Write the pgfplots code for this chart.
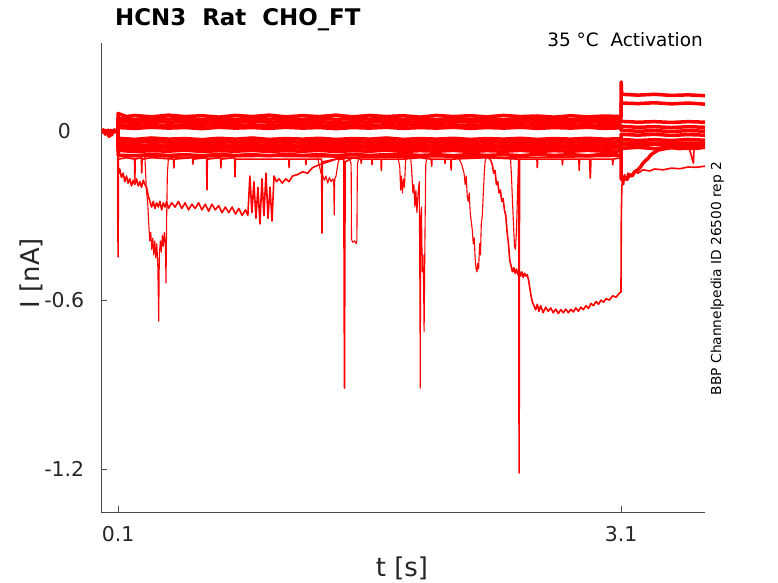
\documentclass[border=0pt]{standalone}
\usepackage{fontspec}
\setmainfont{DejaVu Sans}
\usepackage{pgfplots}
\pgfplotsset{compat=1.18}
\definecolor{axgray}{gray}{0.3}
\definecolor{txgray}{gray}{0.15}
\pgfplotsset{
  bd/.style={red, line width=3.5bp, line join=round},
  sp/.style={red, line width=1.1bp, line join=round},
  md/.style={red, line width=1.6bp, line join=round},
}
\begin{document}
\begin{tikzpicture}
\path[use as bounding box] (0,0) rectangle (778bp,583bp);
\begin{axis}[
  at={(101.3bp,70.7bp)}, anchor=south west,
  width=603.7bp, height=469.3bp, scale only axis,
  xmin=0, xmax=3.6, ymin=-1.353, ymax=0.312,
  axis x line*=bottom, axis y line*=left,
  axis line style={-, color=axgray, line width=0.8bp},
  xtick={0.1,3.1}, xticklabels={0.1,3.1},
  ytick={-1.2,-0.6,0}, yticklabels={-1.2,-0.6,0},
  tick align=inside, major tick length=6bp,
  tick style={color=axgray, line width=0.8bp},
  /pgf/number format/assume math mode=true,
  ticklabel style={font=\fontsize{20.5}{20.5}\selectfont, text=txgray},
  xticklabel style={anchor=center, yshift=-22bp},
  yticklabel style={anchor=center, xshift=-37bp},
  clip=true,
]
% pre-step
\addplot[bd] coordinates {(0,0.003)(0.006,-0.004)(0.012,0.004)(0.018,-0.002)(0.024,-0.012)(0.028,0.001)(0.034,-0.006)(0.04,0.003)(0.046,-0.02)(0.05,-0.004)(0.056,0.002)(0.062,-0.015)(0.066,0.0)(0.072,-0.005)(0.078,0.004)(0.084,-0.003)(0.09,0.002)(0.0995,-0.002)};
% band traces
\addplot[bd] coordinates {(0.099,0)(0.1,0.062)(0.15,0.051)(0.2,0.055)(0.3,0.050)(0.4,0.056)(0.5,0.051)(0.6,0.054)(0.7,0.049)(0.8,0.055)(0.9,0.051)(1.0,0.056)(1.1,0.050)(1.2,0.054)(1.3,0.051)(1.4,0.056)(1.5,0.050)(1.6,0.055)(1.7,0.051)(1.8,0.054)(1.9,0.049)(2.0,0.055)(2.1,0.051)(2.2,0.054)(2.3,0.050)(2.4,0.055)(2.5,0.051)(2.6,0.053)(2.7,0.049)(2.8,0.054)(2.9,0.050)(3.0,0.053)(3.099,0.051)(3.1,0.099)(3.2,0.097)(3.3,0.1)(3.4,0.096)(3.5,0.099)(3.6,0.095)};
\addplot[bd] coordinates {(0.099,0)(0.1,0.045)(0.2,0.041)(0.3,0.046)(0.4,0.042)(0.5,0.044)(0.6,0.040)(0.7,0.045)(0.8,0.041)(0.9,0.046)(1.0,0.042)(1.1,0.044)(1.2,0.040)(1.3,0.046)(1.4,0.041)(1.5,0.045)(1.6,0.042)(1.7,0.046)(1.8,0.041)(1.9,0.044)(2.0,0.040)(2.1,0.045)(2.2,0.041)(2.3,0.044)(2.4,0.040)(2.5,0.045)(2.6,0.041)(2.7,0.044)(2.8,0.040)(2.9,0.044)(3.0,0.041)(3.099,0.043)(3.1,0.174)(3.103,0.13)(3.2,0.127)(3.3,0.130)(3.4,0.126)(3.5,0.128)(3.6,0.125)};
\addplot[bd] coordinates {(0.099,0)(0.1,0.034)(0.2,0.030)(0.3,0.035)(0.4,0.031)(0.5,0.033)(0.6,0.029)(0.7,0.034)(0.8,0.030)(0.9,0.035)(1.0,0.031)(1.1,0.033)(1.2,0.030)(1.3,0.034)(1.4,0.029)(1.5,0.033)(1.6,0.031)(1.7,0.035)(1.8,0.030)(1.9,0.033)(2.0,0.029)(2.1,0.034)(2.2,0.031)(2.3,0.033)(2.4,0.029)(2.5,0.034)(2.6,0.030)(2.7,0.033)(2.8,0.031)(2.9,0.034)(3.0,0.030)(3.099,0.032)(3.1,0.034)(3.2,0.031)(3.3,0.033)(3.4,0.030)(3.5,0.033)(3.6,0.031)};
\addplot[bd] coordinates {(0.099,0)(0.1,0.022)(0.2,0.019)(0.3,0.023)(0.4,0.018)(0.5,0.022)(0.6,0.020)(0.7,0.024)(0.8,0.019)(0.9,0.022)(1.0,0.018)(1.1,0.023)(1.2,0.020)(1.3,0.022)(1.4,0.018)(1.5,0.023)(1.6,0.019)(1.7,0.022)(1.8,0.020)(1.9,0.024)(2.0,0.019)(2.1,0.022)(2.2,0.018)(2.3,0.023)(2.4,0.020)(2.5,0.022)(2.6,0.019)(2.7,0.023)(2.8,0.020)(2.9,0.022)(3.0,0.019)(3.099,0.021)(3.1,0.016)(3.2,0.013)(3.3,0.015)(3.4,0.012)(3.5,0.015)(3.6,0.013)};
\addplot[bd] coordinates {(0.099,0)(0.1,0.012)(0.2,0.009)(0.3,0.013)(0.4,0.010)(0.5,0.012)(0.6,0.008)(0.7,0.013)(0.8,0.010)(0.9,0.012)(1.0,0.009)(1.1,0.013)(1.2,0.010)(1.3,0.012)(1.4,0.008)(1.5,0.012)(1.6,0.010)(1.7,0.013)(1.8,0.009)(1.9,0.012)(2.0,0.010)(2.1,0.013)(2.2,0.009)(2.3,0.012)(2.4,0.010)(2.5,0.013)(2.6,0.009)(2.7,0.012)(2.8,0.010)(2.9,0.013)(3.0,0.009)(3.099,0.011)(3.1,0.002)(3.2,-0.001)(3.3,0.001)(3.4,-0.002)(3.5,0.001)(3.6,-0.001)};
\addplot[bd] coordinates {(0.099,0)(0.1,-0.026)(0.2,-0.030)(0.3,-0.025)(0.4,-0.029)(0.5,-0.027)(0.6,-0.031)(0.7,-0.026)(0.8,-0.029)(0.9,-0.025)(1.0,-0.030)(1.1,-0.027)(1.2,-0.029)(1.3,-0.026)(1.4,-0.030)(1.5,-0.027)(1.6,-0.029)(1.7,-0.025)(1.8,-0.030)(1.9,-0.027)(2.0,-0.029)(2.1,-0.026)(2.2,-0.030)(2.3,-0.027)(2.4,-0.029)(2.5,-0.026)(2.6,-0.030)(2.7,-0.027)(2.8,-0.029)(2.9,-0.026)(3.0,-0.029)(3.099,-0.028)(3.1,-0.012)(3.2,-0.015)(3.3,-0.012)(3.4,-0.016)(3.5,-0.013)(3.6,-0.015)};
\addplot[bd] coordinates {(0.099,0)(0.1,-0.037)(0.2,-0.041)(0.3,-0.036)(0.4,-0.040)(0.5,-0.038)(0.6,-0.042)(0.7,-0.037)(0.8,-0.040)(0.9,-0.036)(1.0,-0.041)(1.1,-0.038)(1.2,-0.040)(1.3,-0.036)(1.4,-0.041)(1.5,-0.038)(1.6,-0.040)(1.7,-0.037)(1.8,-0.041)(1.9,-0.038)(2.0,-0.040)(2.1,-0.036)(2.2,-0.041)(2.3,-0.038)(2.4,-0.040)(2.5,-0.037)(2.6,-0.041)(2.7,-0.038)(2.8,-0.040)(2.9,-0.037)(3.0,-0.040)(3.099,-0.039)(3.1,-0.030)(3.2,-0.034)(3.3,-0.031)(3.4,-0.034)(3.5,-0.030)(3.6,-0.033)};
\addplot[bd] coordinates {(0.099,0)(0.1,-0.048)(0.2,-0.052)(0.3,-0.049)(0.4,-0.051)(0.5,-0.047)(0.6,-0.052)(0.7,-0.049)(0.8,-0.051)(0.9,-0.048)(1.0,-0.052)(1.1,-0.049)(1.2,-0.051)(1.3,-0.047)(1.4,-0.052)(1.5,-0.049)(1.6,-0.051)(1.7,-0.048)(1.8,-0.052)(1.9,-0.049)(2.0,-0.051)(2.1,-0.047)(2.2,-0.052)(2.3,-0.049)(2.4,-0.051)(2.5,-0.048)(2.6,-0.052)(2.7,-0.049)(2.8,-0.051)(2.9,-0.048)(3.0,-0.051)(3.099,-0.050)(3.1,-0.044)(3.2,-0.048)(3.3,-0.045)(3.4,-0.048)(3.5,-0.044)(3.6,-0.047)};
\addplot[bd] coordinates {(0.099,0)(0.1,-0.058)(0.2,-0.062)(0.3,-0.059)(0.4,-0.061)(0.5,-0.057)(0.6,-0.062)(0.7,-0.059)(0.8,-0.061)(0.9,-0.058)(1.0,-0.062)(1.1,-0.059)(1.2,-0.061)(1.3,-0.058)(1.4,-0.062)(1.5,-0.059)(1.6,-0.061)(1.7,-0.058)(1.8,-0.062)(1.9,-0.059)(2.0,-0.061)(2.1,-0.057)(2.2,-0.062)(2.3,-0.059)(2.4,-0.061)(2.5,-0.058)(2.6,-0.062)(2.7,-0.059)(2.8,-0.061)(2.9,-0.058)(3.0,-0.061)(3.099,-0.060)(3.1,-0.062)(3.2,-0.058)(3.3,-0.063)(3.4,-0.059)(3.5,-0.062)(3.6,-0.058)};
\addplot[bd] coordinates {(0.099,0)(0.1,-0.069)(0.2,-0.073)(0.3,-0.070)(0.4,-0.072)(0.5,-0.068)(0.6,-0.073)(0.7,-0.070)(0.8,-0.072)(0.9,-0.069)(1.0,-0.073)(1.1,-0.070)(1.2,-0.072)(1.3,-0.069)(1.4,-0.073)(1.5,-0.070)(1.6,-0.072)(1.7,-0.068)(1.8,-0.073)(1.9,-0.070)(2.0,-0.072)(2.1,-0.069)(2.2,-0.073)(2.3,-0.070)(2.4,-0.072)(2.5,-0.069)(2.6,-0.073)(2.7,-0.070)(2.8,-0.072)(2.9,-0.069)(3.0,-0.072)(3.099,-0.071)(3.1,-0.17)(3.11,-0.175)(3.12,-0.163)(3.135,-0.172)(3.15,-0.155)(3.165,-0.16)(3.18,-0.145)(3.2,-0.138)(3.215,-0.128)(3.23,-0.115)(3.245,-0.105)(3.26,-0.098)(3.275,-0.086)(3.293,-0.078)(3.32,-0.068)(3.352,-0.064)(3.4,-0.059)(3.45,-0.063)(3.5,-0.058)(3.55,-0.062)(3.6,-0.057)};
\addplot[bd] coordinates {(0.099,0)(0.1,-0.086)(0.2,-0.088)(0.3,-0.083)(0.4,-0.087)(0.5,-0.084)(0.6,-0.088)(0.7,-0.083)(0.8,-0.087)(0.9,-0.084)(1.0,-0.088)(1.1,-0.083)(1.2,-0.087)(1.3,-0.084)(1.4,-0.088)(1.5,-0.083)(1.6,-0.087)(1.7,-0.084)(1.8,-0.083)(1.9,-0.087)(2.0,-0.084)(2.1,-0.088)(2.2,-0.083)(2.3,-0.087)(2.4,-0.084)(2.5,-0.088)(2.6,-0.083)(2.7,-0.087)(2.8,-0.084)(2.9,-0.088)(3.0,-0.083)(3.099,-0.086)(3.1,-0.048)(3.2,-0.052)(3.3,-0.047)(3.4,-0.053)(3.5,-0.048)(3.6,-0.05)};
% spiky band-bottom trace
\addplot[md] coordinates {(0.099,0)(0.1,-0.447)(0.102,-0.1)(0.15,-0.095)(0.198,-0.10)(0.2,-0.174)(0.202,-0.10)(0.239,-0.095)(0.241,-0.149)(0.243,-0.10)(0.3,-0.095)(0.431,-0.1)(0.433,-0.131)(0.435,-0.1)(0.544,-0.095)(0.546,-0.118)(0.548,-0.1)(0.628,-0.095)(0.630,-0.209)(0.632,-0.1)(0.711,-0.095)(0.713,-0.131)(0.715,-0.1)(0.795,-0.095)(0.797,-0.163)(0.8,-0.1)(1.0,-0.1)(1.118,-0.1)(1.12,-0.13)(1.122,-0.1)(1.218,-0.1)(1.22,-0.12)(1.222,-0.1)(1.314,-0.1)(1.316,-0.362)(1.318,-0.11)(1.40,-0.1)(1.446,-0.1)(1.450,-0.912)(1.454,-0.11)(1.5,-0.095)(1.548,-0.1)(1.55,-0.115)(1.552,-0.1)(1.613,-0.1)(1.615,-0.12)(1.617,-0.1)(1.668,-0.1)(1.67,-0.14)(1.672,-0.1)(1.8,-0.1)(1.9,-0.095)(1.968,-0.1)(1.97,-0.125)(1.972,-0.1)(2.048,-0.1)(2.05,-0.115)(2.052,-0.1)(2.084,-0.1)(2.086,-0.138)(2.088,-0.1)(2.3,-0.095)(2.489,-0.1)(2.4915,-1.213)(2.494,-0.1)(2.598,-0.1)(2.6,-0.13)(2.602,-0.1)(2.748,-0.1)(2.75,-0.12)(2.752,-0.1)(2.848,-0.1)(2.85,-0.14)(2.852,-0.1)(2.912,-0.1)(2.916,-0.167)(2.92,-0.1)(3.048,-0.1)(3.05,-0.12)(3.052,-0.1)(3.099,-0.095)(3.1,-0.05)(3.2,-0.055)(3.3,-0.05)(3.4,-0.055)(3.5,-0.05)(3.531,-0.114)(3.535,-0.055)(3.6,-0.05)};
% slow trace A
\addplot[md] coordinates {(0.099,0)(0.1,-0.12)(0.105,-0.15)(0.11,-0.135)(0.12,-0.165)(0.13,-0.15)(0.14,-0.18)(0.15,-0.16)(0.16,-0.185)(0.17,-0.17)(0.18,-0.195)(0.19,-0.175)(0.20,-0.19)(0.21,-0.17)(0.22,-0.195)(0.23,-0.18)(0.24,-0.2)(0.25,-0.175)(0.26,-0.19)(0.27,-0.2)(0.28,-0.23)(0.29,-0.25)(0.30,-0.27)(0.31,-0.25)(0.32,-0.275)(0.33,-0.255)(0.34,-0.27)(0.35,-0.25)(0.36,-0.28)(0.37,-0.255)(0.38,-0.27)(0.39,-0.25)(0.40,-0.275)(0.42,-0.255)(0.44,-0.27)(0.46,-0.25)(0.48,-0.275)(0.50,-0.255)(0.52,-0.28)(0.54,-0.26)(0.56,-0.275)(0.58,-0.255)(0.60,-0.28)(0.62,-0.26)(0.64,-0.285)(0.66,-0.26)(0.68,-0.28)(0.70,-0.265)(0.72,-0.29)(0.74,-0.27)(0.76,-0.29)(0.78,-0.27)(0.80,-0.295)(0.82,-0.275)(0.84,-0.3)(0.86,-0.28)(0.874,-0.3)(0.886,-0.16)(0.898,-0.29)(0.91,-0.18)(0.922,-0.31)(0.934,-0.2)(0.946,-0.33)(0.958,-0.17)(0.97,-0.3)(0.982,-0.15)(0.994,-0.31)(1.006,-0.2)(1.018,-0.32)(1.03,-0.16)(1.045,-0.18)(1.06,-0.17)(1.08,-0.185)(1.1,-0.17)(1.12,-0.18)(1.14,-0.16)(1.17,-0.155)(1.2,-0.145)(1.23,-0.15)(1.26,-0.13)(1.3,-0.12)(1.35,-0.11)(1.4,-0.1)(1.5,-0.095)(2.0,-0.092)(2.5,-0.095)(3.099,-0.09)(3.1,-0.04)(3.6,-0.04)};
% deep dips near 0.3 s
\addplot[sp] coordinates {(0.26,-0.09)(0.268,-0.2)(0.277,-0.26)(0.283,-0.33)(0.289,-0.39)(0.295,-0.36)(0.301,-0.42)(0.307,-0.38)(0.313,-0.44)(0.319,-0.39)(0.325,-0.45)(0.331,-0.40)(0.337,-0.48)(0.3425,-0.675)(0.346,-0.44)(0.352,-0.39)(0.358,-0.43)(0.364,-0.37)(0.370,-0.41)(0.376,-0.36)(0.382,-0.40)(0.386,-0.54)(0.39,-0.30)(0.394,-0.15)(0.40,-0.10)};
% region 1.3-1.4 s
\addplot[sp] coordinates {(1.29,-0.095)(1.31,-0.15)(1.322,-0.16)(1.33,-0.175)(1.34,-0.16)(1.35,-0.185)(1.36,-0.165)(1.37,-0.18)(1.38,-0.17)(1.386,-0.18)(1.389,-0.298)(1.392,-0.17)(1.40,-0.16)(1.41,-0.12)(1.42,-0.095)};
% notch 1.49-1.53 s
\addplot[sp] coordinates {(1.48,-0.095)(1.490,-0.12)(1.492,-0.385)(1.5,-0.395)(1.51,-0.39)(1.52,-0.40)(1.524,-0.39)(1.527,-0.12)(1.535,-0.095)};
% dips near 1.8 s
\addplot[sp] coordinates {(1.77,-0.095)(1.78,-0.13)(1.785,-0.21)(1.79,-0.16)(1.796,-0.22)(1.802,-0.17)(1.808,-0.2)(1.814,-0.11)(1.82,-0.095)};
\addplot[sp] coordinates {(1.845,-0.095)(1.852,-0.15)(1.858,-0.22)(1.864,-0.19)(1.870,-0.27)(1.876,-0.21)(1.882,-0.29)(1.888,-0.23)(1.896,-0.18)(1.900,-0.6)(1.902,-0.912)(1.905,-0.3)(1.909,-0.27)(1.914,-0.50)(1.918,-0.44)(1.922,-0.55)(1.925,-0.713)(1.928,-0.5)(1.931,-0.32)(1.935,-0.12)(1.94,-0.095)};
% V dip near 2.24 s
\addplot[sp] coordinates {(2.13,-0.095)(2.15,-0.12)(2.163,-0.15)(2.17,-0.19)(2.176,-0.16)(2.182,-0.23)(2.188,-0.25)(2.194,-0.22)(2.2,-0.29)(2.206,-0.32)(2.212,-0.35)(2.218,-0.40)(2.224,-0.38)(2.229,-0.45)(2.235,-0.49)(2.240,-0.50)(2.245,-0.47)(2.250,-0.49)(2.256,-0.40)(2.261,-0.44)(2.266,-0.33)(2.272,-0.30)(2.278,-0.22)(2.283,-0.16)(2.288,-0.11)(2.295,-0.095)};
% dip near 2.47 s
\addplot[sp] coordinates {(2.44,-0.095)(2.446,-0.16)(2.452,-0.25)(2.458,-0.33)(2.464,-0.41)(2.470,-0.42)(2.476,-0.35)(2.482,-0.22)(2.488,-0.11)(2.494,-0.095)};
% trough trace
\addplot[md] coordinates {(0.099,0)(0.1,-0.09)(0.5,-0.093)(1.0,-0.09)(1.5,-0.093)(2.0,-0.09)(2.30,-0.092)(2.319,-0.10)(2.331,-0.118)(2.34,-0.15)(2.348,-0.14)(2.356,-0.19)(2.364,-0.18)(2.372,-0.22)(2.38,-0.21)(2.388,-0.25)(2.396,-0.24)(2.404,-0.28)(2.412,-0.30)(2.42,-0.36)(2.428,-0.40)(2.436,-0.46)(2.444,-0.48)(2.452,-0.50)(2.46,-0.485)(2.468,-0.505)(2.476,-0.49)(2.484,-0.51)(2.492,-0.495)(2.50,-0.515)(2.508,-0.50)(2.516,-0.52)(2.524,-0.505)(2.532,-0.515)(2.54,-0.51)(2.548,-0.53)(2.556,-0.56)(2.564,-0.59)(2.572,-0.61)(2.58,-0.62)(2.59,-0.635)(2.60,-0.615)(2.61,-0.64)(2.62,-0.62)(2.635,-0.645)(2.65,-0.625)(2.665,-0.64)(2.68,-0.628)(2.695,-0.645)(2.71,-0.632)(2.725,-0.648)(2.74,-0.634)(2.755,-0.645)(2.77,-0.632)(2.785,-0.645)(2.80,-0.633)(2.815,-0.642)(2.83,-0.628)(2.845,-0.64)(2.86,-0.625)(2.875,-0.634)(2.89,-0.62)(2.905,-0.63)(2.92,-0.612)(2.935,-0.62)(2.95,-0.605)(2.965,-0.615)(2.98,-0.60)(2.995,-0.608)(3.01,-0.595)(3.03,-0.60)(3.05,-0.585)(3.07,-0.59)(3.09,-0.575)(3.099,-0.572)(3.101,-0.30)(3.104,-0.20)(3.11,-0.16)(3.115,-0.19)(3.12,-0.155)(3.13,-0.175)(3.14,-0.15)(3.16,-0.16)(3.18,-0.142)(3.2,-0.15)(3.23,-0.138)(3.27,-0.142)(3.3,-0.135)(3.35,-0.138)(3.4,-0.132)(3.45,-0.134)(3.5,-0.128)(3.55,-0.129)(3.6,-0.125)};
\end{axis}
\node[anchor=base west, inner sep=0, font=\fontsize{23}{23}\selectfont\bfseries] at (115bp,557bp) {HCN3\ \ Rat\ \ CHO\_FT};
\node[anchor=base east, inner sep=0, font=\fontsize{18.5}{18.5}\selectfont] at (703bp,536bp) {35 °C\ \ Activation};
\node[rotate=90, anchor=base, inner sep=0, font=\fontsize{13.8}{13.8}\selectfont] at (721bp,304.6bp) {BBP Channelpedia ID 26500 rep 2};
\node[anchor=base, inner sep=0, text=txgray, font=\fontsize{26}{26}\selectfont] at (402bp,7bp) {t [s]};
\node[rotate=90, anchor=base, inner sep=0, text=txgray, font=\fontsize{26}{26}\selectfont] at (39bp,310bp) {I [nA]};
\end{tikzpicture}
\end{document}
